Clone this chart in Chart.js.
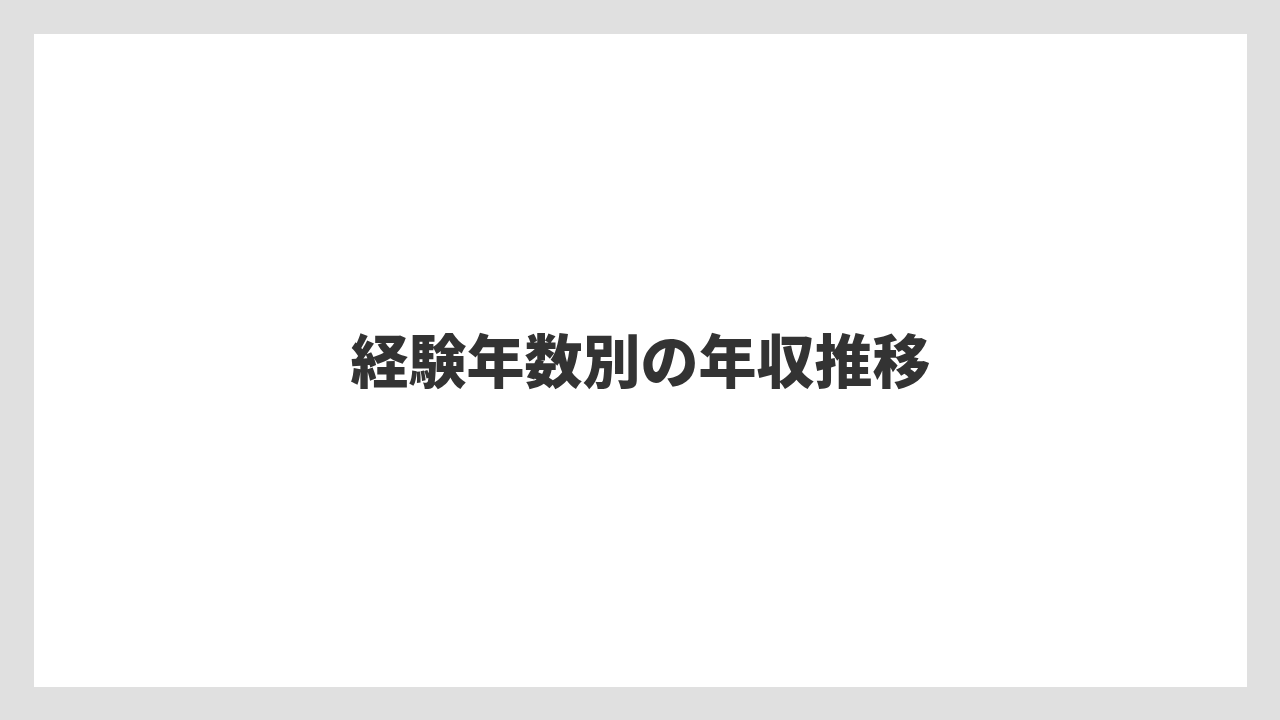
<!DOCTYPE html>
<html lang="ja">
<head>
<meta charset="utf-8">
<title>経験年数別の年収推移</title>
<script src="https://cdn.jsdelivr.net/npm/chart.js@4.4.1/dist/chart.umd.min.js"></script>
<style>
    html, body {
        margin: 0;
        padding: 0;
        background: #e0e0e0;
        width: 1280px;
        height: 720px;
        overflow: hidden;
    }
    #card {
        position: absolute;
        left: 34px;
        top: 34px;
        width: 1213px;
        height: 653px;
        background: #ffffff;
    }
</style>
</head>
<body>
<div id="card">
    <canvas id="myChart"></canvas>
</div>
<script>
// The reference shows only the title: no series are drawn
var chartTitle = '経験年数別の年収推移';
var experienceYears = [];
var annualIncome = [];


// Render the Chart
function renderChart(labels, data) {
    var ctx = document.getElementById('myChart').getContext('2d');
    var myChart = new Chart(ctx, {
        type: 'line',
        data: {
            labels: labels,
            datasets: [
                {
                    label: '年収',
                    data: data,
                    borderColor: '#333333',
                    backgroundColor: '#333333'
                }
            ]
        },
        options: {
            responsive: true,
            maintainAspectRatio: false,
            animation: false,
            layout: { padding: 0 },
            scales: {
                x: { display: false },
                y: { display: false }
            },
            plugins: {
                legend: { display: false },
                tooltip: { enabled: false },
                title: {
                    display: true,
                    text: chartTitle,
                    color: '#333333',
                    font: {
                        family: '"Noto Sans CJK JP", "Noto Sans", sans-serif',
                        size: 58,
                        weight: 900,
                        lineHeight: 1.2
                    },
                    padding: { top: 292, bottom: 0 }
                }
            }
        }
    });
}

document.getElementById('myChart').parentNode.style.height = '653px';
renderChart(experienceYears, annualIncome);
</script>
</body>
</html>
